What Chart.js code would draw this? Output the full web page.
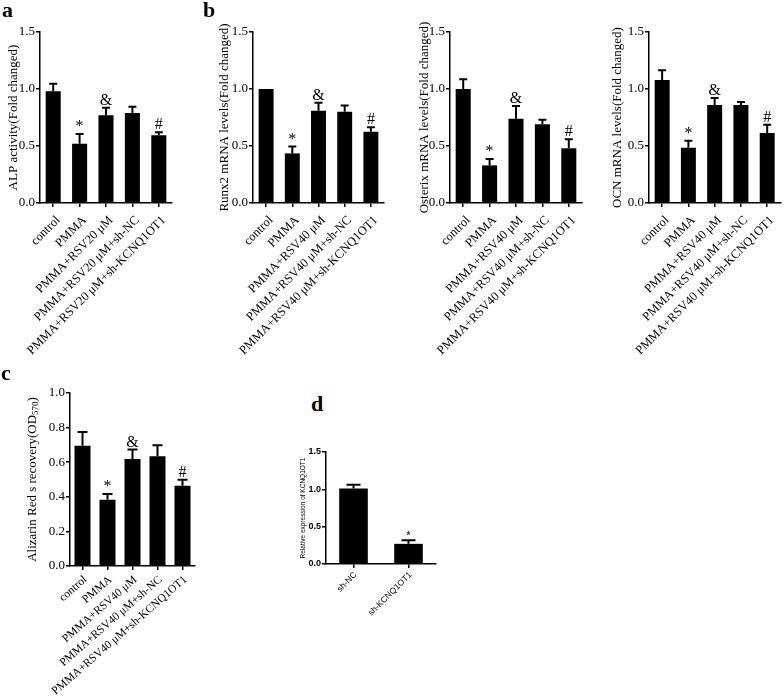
<!DOCTYPE html>
<html>
<head>
<meta charset="utf-8">
<script src="https://cdn.jsdelivr.net/npm/chart.js@4.4.1/dist/chart.umd.min.js"></script>
<style>
  body { margin: 0; background: #fff; }
  #fig { position: relative; width: 784px; height: 700px; overflow: hidden; }
  canvas { position: absolute; }
  .tag { position: absolute; font: bold 22px/22px "Liberation Serif", "Times New Roman", serif; color: #000; }
</style>
</head>
<body>
<div id="fig">
  <canvas id="pa" width="200" height="360" style="left:0px;top:0px"></canvas>
  <canvas id="pb" width="200" height="360" style="left:200px;top:0px"></canvas>
  <canvas id="posx" width="195" height="360" style="left:400px;top:0px"></canvas>
  <canvas id="pocn" width="189" height="360" style="left:595px;top:0px"></canvas>
  <canvas id="pc" width="200" height="330" style="left:0px;top:370px"></canvas>
  <canvas id="pd" width="170" height="240" style="left:290px;top:440px"></canvas>
  <div class="tag" style="left:2px;top:-1px">a</div>
  <div class="tag" style="left:203px;top:-1px">b</div>
  <div class="tag" style="left:1px;top:362px">c</div>
  <div class="tag" style="left:311px;top:393px">d</div>
</div>
<script>
const groups20 = ['control', 'PMMA', 'PMMA+RSV20 μM', 'PMMA+RSV20 μM+sh-NC', 'PMMA+RSV20 μM+sh-KCNQ1OT1'];
const groups40 = ['control', 'PMMA', 'PMMA+RSV40 μM', 'PMMA+RSV40 μM+sh-NC', 'PMMA+RSV40 μM+sh-KCNQ1OT1'];
const shGroups = ['sh-NC', 'sh-KCNQ1OT1'];

const alpMean = [0.98, 0.52, 0.77, 0.79, 0.595];
const alpErr = [0.065, 0.085, 0.065, 0.055, 0.025];
const runx2Mean = [1.0, 0.435, 0.81, 0.80, 0.625];
const runx2Err = [0, 0.06, 0.07, 0.055, 0.04];
const osxMean = [1.0, 0.33, 0.74, 0.69, 0.48];
const osxErr = [0.085, 0.055, 0.11, 0.04, 0.08];
const ocnMean = [1.08, 0.485, 0.86, 0.86, 0.615];
const ocnErr = [0.085, 0.06, 0.06, 0.027, 0.072];
const alizMean = [0.695, 0.383, 0.619, 0.635, 0.464];
const alizErr = [0.08, 0.033, 0.054, 0.063, 0.035];
const kcnqMean = [1.01, 0.27];
const kcnqErr = [0.053, 0.048];

const marks5 = ['', '*', '&', '', '#'];
const marks2 = ['', '*'];

const SERIF = '"Liberation Serif", "Times New Roman", serif';
const SANS = '"Liberation Sans", Arial, sans-serif';

Chart.defaults.color = '#000';
Chart.defaults.animation = false;

// error bars (upper half only) + significance marks above them
const errorBars = {
  id: 'errorBars',
  afterDatasetsDraw(chart, args, o) {
    const ctx = chart.ctx;
    const y = chart.scales.y;
    const bars = chart.getDatasetMeta(0).data;
    ctx.save();
    ctx.strokeStyle = '#000';
    ctx.lineWidth = 2;
    bars.forEach((bar, i) => {
      const top = y.getPixelForValue(o.means[i] + o.errs[i]);
      if (o.errs[i] > 0) {
        ctx.beginPath();
        ctx.moveTo(bar.x, bar.y);
        ctx.lineTo(bar.x, top);
        ctx.moveTo(bar.x - o.cap, top);
        ctx.lineTo(bar.x + o.cap, top);
        ctx.stroke();
      }
      if (o.marks[i]) {
        ctx.fillStyle = o.markColor;
        ctx.font = o.markFont;
        ctx.textAlign = 'center';
        ctx.textBaseline = 'alphabetic';
        ctx.fillText(o.marks[i], bar.x, top - o.gap);
      }
    });
    ctx.restore();
  }
};

// rotated y title, with optional subscript part
const yTitle = {
  id: 'yTitle',
  afterDraw(chart, args, o) {
    const {ctx, chartArea} = chart;
    const cy = (chartArea.top + chartArea.bottom) / 2;
    const big = o.size + 'px ' + o.family;
    const small = Math.round(o.size * 0.72) + 'px ' + o.family;
    ctx.save();
    ctx.translate(o.x, cy);
    ctx.rotate(-Math.PI / 2);
    ctx.fillStyle = '#000';
    ctx.textBaseline = 'middle';
    ctx.textAlign = 'left';
    ctx.font = big;
    const w1 = ctx.measureText(o.text).width;
    const w3 = o.tail ? ctx.measureText(o.tail).width : 0;
    ctx.font = small;
    const w2 = o.sub ? ctx.measureText(o.sub).width : 0;
    let x = -(w1 + w2 + w3) / 2;
    ctx.font = big;
    ctx.fillText(o.text, x, 0);
    x += w1;
    if (o.sub) {
      ctx.font = small;
      ctx.fillText(o.sub, x, 3);
      x += w2;
      ctx.font = big;
      ctx.fillText(o.tail, x, 0);
    }
    ctx.restore();
  }
};

function makePanel(id, labels, means, errs, marks, p) {
  const fam = p.sans ? SANS : SERIF;
  return new Chart(document.getElementById(id), {
    type: 'bar',
    data: {
      labels: labels,
      datasets: [{
        data: means,
        backgroundColor: '#000',
        borderWidth: 0,
        barPercentage: p.barPct,
        categoryPercentage: 1
      }]
    },
    options: {
      responsive: false,
      layout: { padding: { top: p.padTop, right: p.padRight, bottom: 0, left: 0 } },
      plugins: {
        legend: { display: false },
        tooltip: { enabled: false },
        errorBars: {
          means: means, errs: errs, marks: marks, cap: p.cap, gap: p.gap,
          markFont: p.markFont, markColor: p.markColor || '#000'
        },
        yTitle: { text: p.title, sub: p.sub, tail: p.tail, x: p.titleX, size: p.titleSize, family: p.sans ? SANS : SERIF }
      },
      scales: {
        x: {
          offset: true,
          grid: { display: true, offset: false, drawOnChartArea: false, drawTicks: true, tickLength: 4, color: '#000', lineWidth: 1.5 },
          border: { display: true, color: '#000', width: 1.5 },
          ticks: {
            autoSkip: false, minRotation: p.rot, maxRotation: p.rot,
            padding: p.xPad, labelOffset: p.xShift,
            font: { family: fam, size: p.xFont }
          },
          afterFit(scale) { scale.height = p.xHeight; }
        },
        y: {
          min: 0, max: p.yMax,
          grid: { display: true, drawOnChartArea: false, drawTicks: true, tickLength: 4, color: '#000', lineWidth: 1.5 },
          border: { display: true, color: '#000', width: 1.5 },
          ticks: {
            stepSize: p.step, padding: 1,
            font: { family: fam, size: p.yFont, weight: p.sans ? 'bold' : 'normal' },
            callback: v => v.toFixed(1)
          },
          afterFit(scale) { scale.width = p.yWidth; }
        }
      }
    },
    plugins: [errorBars, yTitle]
  });
}

const serifPanel = { markFont: '16px ' + SERIF, gap: 3, rot: 45, xFont: 12.5, xPad: 6, xShift: 5, yFont: 13, titleSize: 13 };

makePanel('pa', groups20, alpMean, alpErr, marks5, Object.assign({}, serifPanel, {
  yMax: 1.5, step: 0.5, yWidth: 40, padTop: 32, padRight: 28, xHeight: 157, barPct: 0.57, cap: 4,
  title: 'ALP activity(Fold changed)', titleX: 14
}));

makePanel('pb', groups40, runx2Mean, runx2Err, marks5, Object.assign({}, serifPanel, {
  yMax: 1.5, step: 0.5, yWidth: 53, padTop: 32, padRight: 16, xHeight: 157, barPct: 0.57, cap: 4,
  title: 'Runx2 mRNA levels(Fold changed)', titleX: 25
}));

makePanel('posx', groups40, osxMean, osxErr, marks5, Object.assign({}, serifPanel, {
  yMax: 1.5, step: 0.5, yWidth: 50, padTop: 32, padRight: 13, xHeight: 157, barPct: 0.57, cap: 4,
  title: 'Osterix mRNA levels(Fold changed)', titleX: 25
}));

makePanel('pocn', groups40, ocnMean, ocnErr, marks5, Object.assign({}, serifPanel, {
  yMax: 1.5, step: 0.5, yWidth: 54, padTop: 32, padRight: 2, xHeight: 157, barPct: 0.57, cap: 4,
  title: 'OCN mRNA levels(Fold changed)', titleX: 23
}));

makePanel('pc', groups40, alizMean, alizErr, marks5, Object.assign({}, serifPanel, {
  yMax: 1.0, step: 0.2, yWidth: 70, padTop: 23, padRight: 5, xHeight: 134, barPct: 0.64, cap: 5,
  title: 'Alizarin Red s recovery(OD', sub: '570', tail: ')', titleX: 33,
  rot: 41, xFont: 11.5, xPad: 3, xShift: 3
}));

makePanel('pd', shGroups, kcnqMean, kcnqErr, marks2, {
  sans: true, yMax: 1.5, step: 0.5, yWidth: 36, padTop: 12, padRight: 24, xHeight: 116, barPct: 0.52, cap: 7,
  title: 'Relative expression of KCNQ1OT1', titleX: 13, titleSize: 6.5, rot: 45, xFont: 8.5, xPad: 2, xShift: 2, yFont: 9,
  markFont: 'bold 10px ' + SANS, markColor: '#444', gap: 1
});
</script>
</body>
</html>
